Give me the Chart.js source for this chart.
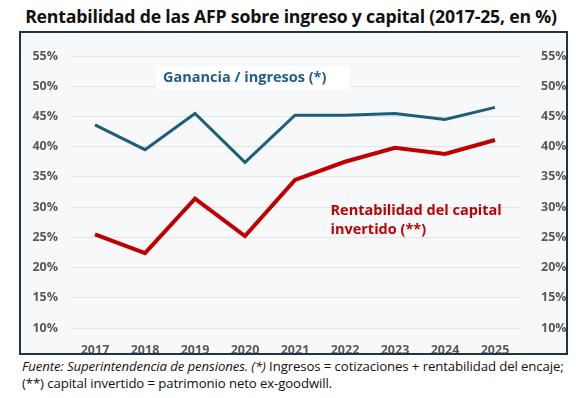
<!DOCTYPE html>
<html>
<head>
<meta charset="utf-8">
<script src="https://cdn.jsdelivr.net/npm/chart.js@4.4.1/dist/chart.umd.min.js"></script>
<style>
	body { margin: 0; width: 576px; height: 398px; background: #fff; position: relative; font-family: "Open Sans", sans-serif; overflow: hidden; }
	#title { position: absolute; left: 0; top: 4px; width: 582px; text-align: center; font-weight: 700; font-size: 17.7px; color: #111; letter-spacing: -0.2px; }
	#box { position: absolute; left: 19px; top: 31px; width: 545px; height: 320px; border: 2px solid #1f3547; background: #f7f8fa; }
	#box canvas { display: block; }
	#note { position: absolute; left: 22px; top: 358px; font-size: 13.2px; line-height: 16.5px; color: #111; letter-spacing: -0.1px; }
</style>
</head>
<body>
<div id="title">Rentabilidad de las AFP sobre ingreso y capital (2017-25, en %)</div>
<div id="box"><canvas id="myChart" width="545" height="320"></canvas></div>
<div id="note"><i>Fuente: Superintendencia de pensiones. (*)</i> Ingresos = cotizaciones + rentabilidad del encaje;<br>(**) capital invertido = patrimonio neto ex-goodwill.</div>
<script>
const years = ["2017", "2018", "2019", "2020", "2021", "2022", "2023", "2024", "2025"];
const gananciaIngresos = [43.6, 39.5, 45.5, 37.4, 45.2, 45.2, 45.5, 44.5, 46.5];
const rentCapital = [25.5, 22.4, 31.4, 25.2, 34.5, 37.5, 39.8, 38.8, 41.1];
const yTicks = [10, 15, 20, 25, 30, 35, 40, 45, 50, 55];

const blue = "#1d5e7d";
const red = "#c00000";
const tickFont = { family: "'Open Sans', sans-serif", size: 12.5, weight: "bold" };

// etiquetas de las series dentro del grafico
const labelsPlugin = {
	id: "serieslabels",
	afterDatasetsDraw(chart) {
		const ctx = chart.ctx;
		const x = chart.scales.x;
		const y = chart.scales.y;
		ctx.save();
		ctx.font = "bold 14.5px 'Open Sans', sans-serif";
		ctx.textBaseline = "middle";
		let bx = x.getPixelForValue(1.36);
		let by = y.getPixelForValue(51.4);
		let w = ctx.measureText("Ganancia / ingresos (*)").width;
		ctx.fillStyle = "#ffffff";
		ctx.fillRect(bx - 7, by - 12, w + 30, 24);
		ctx.fillStyle = "#1f5b8c";
		ctx.fillText("Ganancia / ingresos (*)", bx, by);
		ctx.fillStyle = red;
		let rx = x.getPixelForValue(4.71);
		ctx.fillText("Rentabilidad del capital", rx, y.getPixelForValue(29.4));
		ctx.fillText("invertido (**)", rx, y.getPixelForValue(26.2));
		ctx.restore();
	},
};

new Chart(document.getElementById("myChart"), {
	type: "line",
	data: {
		labels: years,
		datasets: [
			{
				label: "Ganancia / ingresos (*)",
				data: gananciaIngresos,
				borderColor: blue,
				borderWidth: 3,
				pointRadius: 0,
				tension: 0,
				yAxisID: "y",
			},
			{
				label: "Rentabilidad del capital invertido (**)",
				data: rentCapital,
				borderColor: red,
				borderWidth: 4,
				pointRadius: 0,
				tension: 0,
				yAxisID: "y",
			},
		],
	},
	options: {
		responsive: false,
		animation: false,
		layout: { padding: { top: 23, left: 0, right: 0, bottom: 0 } },
		plugins: {
			legend: { display: false },
			tooltip: { enabled: false },
		},
		scales: {
			x: {
				offset: true,
				grid: { display: false },
				border: { display: false },
				ticks: { color: "#595959", font: tickFont, padding: 7 },
				afterFit(scale) { scale.height = 25; },
			},
			y: {
				position: "left",
				min: 10,
				max: 55,
				afterBuildTicks(scale) { scale.ticks = yTicks.map((v) => ({ value: v })); },
				grid: { color: "#e2e4e8", lineWidth: 1, drawTicks: false },
				border: { display: false },
				ticks: { color: "#595959", font: tickFont, padding: 12, callback: (v) => v + "%" },
				afterFit(scale) { scale.width = 49; },
			},
			y2: {
				position: "right",
				min: 10,
				max: 55,
				afterBuildTicks(scale) { scale.ticks = yTicks.map((v) => ({ value: v })); },
				grid: { display: false },
				border: { display: false },
				ticks: { color: "#595959", font: tickFont, padding: 13, callback: (v) => v + "%" },
				afterFit(scale) { scale.width = 46; },
			},
		},
	},
	plugins: [labelsPlugin],
});
</script>
</body>
</html>
